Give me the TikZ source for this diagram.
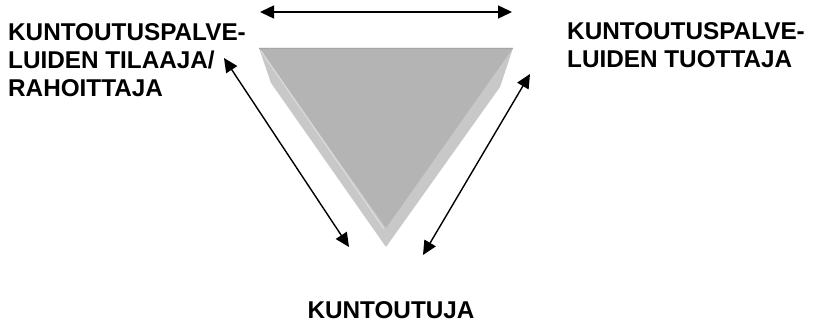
\documentclass[tikz,border=0pt]{standalone}
\usepackage{fontspec}
\setmainfont{Liberation Sans}
\usetikzlibrary{arrows.meta}
\definecolor{bevel}{HTML}{C8C8C8}
\definecolor{face}{HTML}{B4B4B4}
\definecolor{hilite}{HTML}{DADADA}
\definecolor{topedge}{HTML}{A6A6A6}
\tikzset{
  lab/.style={inner sep=0pt, align=left, anchor=north west,
    font=\fontsize{24.3}{28}\selectfont\bfseries},
  biarrow/.style={line width=1.4pt,
    {Triangle[length=14pt,width=13pt]}-{Triangle[length=14pt,width=13pt]}}
}
\begin{document}
\begin{tikzpicture}[x=1pt,y=-1pt]
\useasboundingbox (0,0) rectangle (813,323);
% triangle with bevel
\fill[bevel] (259,48) -- (513,48) -- (500,87) -- (386,247) -- (271,83) -- cycle;
\fill[face] (259,48) -- (513,48) -- (386,228) -- cycle;
\draw[hilite, line width=1.2pt] (261,51) -- (384,229);
\draw[topedge, line width=1.2pt] (259,48.5) -- (513,48.5);
% labels
\node[lab] (tilaaja) at (8,23) {KUNTOUTUSPALVE-\\LUIDEN TILAAJA/\\RAHOITTAJA};
\node[lab] (tuottaja) at (567,22) {KUNTOUTUSPALVE-\\LUIDEN TUOTTAJA};
\node[lab, anchor=north] (kuntoutuja) at (391,301) {KUNTOUTUJA};
% arrow ends
\coordinate (tl) at (260,12);
\coordinate (tr) at (512,12);
\coordinate (l1) at (224,58);
\coordinate (l2) at (349,247);
\coordinate (r1) at (530,74);
\coordinate (r2) at (423,255);
\draw[biarrow] (tl) -- (tr);
\draw[biarrow] (l1) -- (l2);
\draw[biarrow] (r1) -- (r2);
\end{tikzpicture}
\end{document}
